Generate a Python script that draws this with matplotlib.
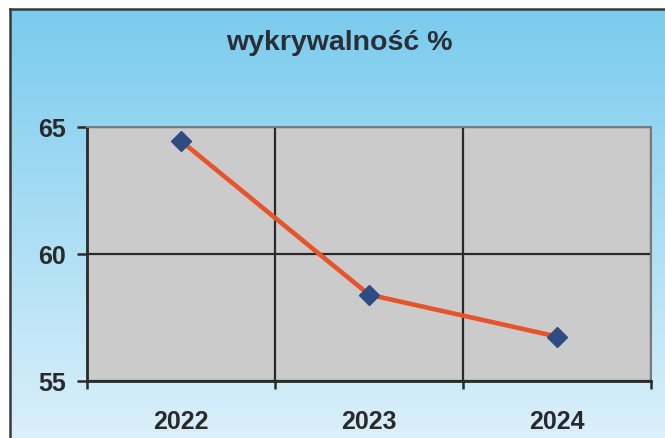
import numpy as np
import matplotlib
matplotlib.use("Agg")
import matplotlib.pyplot as plt
from matplotlib.lines import Line2D

years = ["2022", "2023", "2024"]
values = [64.45, 58.4, 56.75]
y_ticks = [55, 60, 65]
title = "wykrywalność %"

plt.rcParams['font.family'] = ['Liberation Sans', 'DejaVu Sans']

W, H = 665, 439
fig = plt.figure(figsize=(W / 100, H / 100), dpi=100)
fig.patch.set_facecolor("white")

# background gradient panel (chart area)
fx0, fy0 = 10, 10
bg = fig.add_axes([fx0 / W, 0, 1 - fx0 / W, 1 - fy0 / H])
top = np.array([122, 203, 238]) / 255
bot = np.array([218, 240, 250]) / 255
t = np.linspace(0, 1, 256)[:, None]
grad = top[None, :] * (1 - t) + bot[None, :] * t
bg.imshow(grad[:, None, :], aspect="auto", extent=[0, 1, 0, 1])
bg.set_xlim(0, 1); bg.set_ylim(0, 1)
bg.axis("off")
# frame lines (left and top)
fig.add_artist(Line2D([fx0 / W, fx0 / W], [0, 1 - fy0 / H], transform=fig.transFigure,
                      color="#3a3a3a", lw=1.8))
fig.add_artist(Line2D([fx0 / W, 1], [1 - fy0 / H, 1 - fy0 / H], transform=fig.transFigure,
                      color="#3a3a3a", lw=1.8))

ax = fig.add_axes([87 / W, 1 - 382 / H, (651 - 87) / W, (382 - 128) / H])
ax.set_facecolor("#cbcbcb")
x = np.arange(len(years))
ax.plot(x, values, color="#e5542b", lw=3.3, zorder=3,
        marker="D", markersize=10.5, markerfacecolor="#2f4c82", markeredgecolor="#2f4c82")
ax.set_xlim(-0.5, len(years) - 0.5)
ax.set_ylim(55, 65)

ax.set_yticks(y_ticks)
ax.set_yticklabels([str(v) for v in y_ticks], fontsize=18, fontweight="bold", color="#2a2a2a")
ax.tick_params(axis="y", length=7, width=1.8, color="#2a2a2a", pad=8)

ax.set_xticks(np.arange(len(years) + 1) - 0.5)
ax.set_xticklabels([""] * (len(years) + 1))
ax.tick_params(axis="x", which="major", length=6, width=1.8, color="#2a2a2a", direction="out")
ax.set_xticks(x, minor=True)
ax.set_xticklabels(years, minor=True, fontsize=18, fontweight="bold", color="#2a2a2a")
ax.tick_params(axis="x", which="minor", length=0, pad=20)

ax.grid(True, which="major", color="#2a2a2a", lw=1.6, zorder=1)
ax.set_axisbelow(True)
for s in ["left", "bottom"]:
    ax.spines[s].set_color("#2a2a2a")
    ax.spines[s].set_linewidth(2.0)
for s in ["top", "right"]:
    ax.spines[s].set_color("#7a7a7a")
    ax.spines[s].set_linewidth(1.5)

fig.text(339 / W, 1 - 43 / H, title, ha="center", va="center", fontsize=20.5,
         fontweight="bold", color="#2a2f35")

fig.savefig("out.png", dpi=100)
